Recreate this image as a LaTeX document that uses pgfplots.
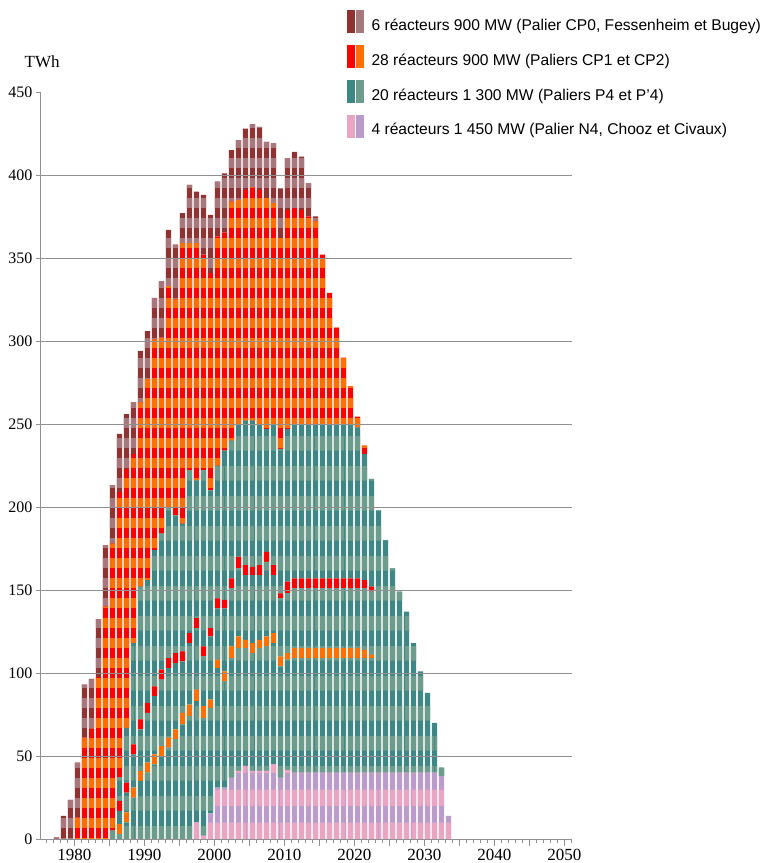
\documentclass[border=0pt]{standalone}
\usepackage{fontspec}
\setmainfont{Liberation Sans}
\newfontfamily\serif{Liberation Serif}
\usepackage{pgfplots}
\usepackage{pgfplotstable}
\pgfplotsset{compat=1.18}
\usetikzlibrary{patterns.meta}

\definecolor{cpzA}{HTML}{8E3232}
\definecolor{cpzB}{HTML}{A6787E}
\definecolor{cpA}{HTML}{FF0000}
\definecolor{cpB}{HTML}{FF7000}
\definecolor{pA}{HTML}{3F8784}
\definecolor{pB}{HTML}{6D9C8C}
\definecolor{nA}{HTML}{E9A5C1}
\definecolor{nB}{HTML}{B99CCA}
\definecolor{gridgray}{HTML}{909090}

% production per year (TWh), stacked bottom to top
% n4 = palier N4, p4a/p4b/p4c = paliers P4/P'4, cpa/cpb = two CP1/CP2 units stacked among them,
% cp = rest of CP1/CP2, cp0 = palier CP0
\pgfplotstableread{
year n4 p4a cpa p4b cpb p4c cp cp0
1977 0 0 0 0 0 0 0 1
1978 0 0 0 0 0 0 0 14
1979 0 0 0 0 0 0 0 23.5
1980 0 0 0 0 0 0 13 33
1981 0 0 0 0 0 0 61 32
1982 0 0 0 0 0 0 66.5 30
1983 0 0 0 0 0 0 97.5 35
1984 0 0 0 0 0 0 140 37
1985 0 5 0 0 0 0 173 35
1986 0 3 6 8 6 14 172 35
1987 0 10 6 12 6 33 156 33
1988 0 25 6 20 6 61 114 31
1989 0 35 6 25 6 80 111 31
1990 0 40 6 30 6 74 121 29
1991 0 45 6 35 6 82 127 25
1992 0 50 6 40 6 82 118 34
1993 0 55 6 42 6 91 133 34
1994 0 60 6 40 6 83 130 33
1995 0 69 7 31 6 77 169 18
1996 0 74 7 37 6 98 137 35
1997 10 73 7 37 6 83 143 31
1998 2 71 7 30 6 106 130 36
1999 15.5 63.5 5 38 5 83 131 35
2000 31 72 5 31 6 80 138 33
2001 31 64 6 38 5 90 131.5 35.5
2002 37 72 7 35 6 83 144 31
2003 41 74 7 41 7 80 135 36
2004 44 71 5 39 6 87 139 37
2005 41 71 6 41 5 88 140.6 38
2006 41 74 5 39 6 85 141 38
2007 41 75 6 45 6 74 139 34
2008 45 73 6 35 6 85 133 36
2009 37 67 6 35 3 87 127 30
2010 41.5 66.5 4 36 7 92 132 31
2011 40 69 6 36 6 93 130 34
2012 40 69 6 36 6 93 129 32
2013 40 69 6 36 6 93 125 20
2014 40 69 6 36 6 93 122 3
2015 40 69 6 36 6 93 102 0
2016 40 69 6 36 6 93 79 0
2017 40 69 6 36 6 93 58 0
2018 40 69 6 36 6 93 40 0
2019 40 69 6 36 6 93 22.6 0
2020 40 69 6 36 6 91 6.5 0
2021 40 69 5 37 5 76 5 0
2022 40 69 2 38 3 65 0 0
2023 40 158 0 0 0 0 0 0
2024 40 140 0 0 0 0 0 0
2025 40 123 0 0 0 0 0 0
2026 40 109 0 0 0 0 0 0
2027 40 97 0 0 0 0 0 0
2028 40 78 0 0 0 0 0 0
2029 40 61 0 0 0 0 0 0
2030 40 48 0 0 0 0 0 0
2031 40 30 0 0 0 0 0 0
2032 38 5 0 0 0 0 0 0
2033 14 0 0 0 0 0 0 0
}\prod

\pgfplotsset{
  stripes/.style n args={4}{fill=#1, draw=none,
    postaction={pattern color=#2, pattern={Lines[angle=0,distance=#3,line width=#4]}}},
}

\begin{document}
\begin{tikzpicture}
\begin{axis}[
  scale only axis, width=532pt, height=747pt,
  xmin=1975.1, xmax=2051.1, ymin=0, ymax=450,
  ybar stacked, bar width=5.4pt, bar shift=3.2pt,
  clip=false, axis on top,
  axis x line*=bottom, axis y line*=left,
  axis line style={draw=gridgray, line width=0.9pt, -},
  tick align=outside,
  xtick={1980,1990,...,2050},
  minor xtick={1975,...,2051},
  extra x ticks={1975,1985,...,2045},
  extra x tick labels={},
  ytick={0,50,...,450},
  extra y ticks={50,100,...,400},
  extra y tick labels={},
  extra y tick style={ymajorgrids=true, major tick length=0pt},
  major grid style={draw=gridgray, line width=0.9pt},
  major tick length=7pt, minor tick length=3.5pt,
  ytick style={/pgfplots/major tick length=4pt},
  tick style={draw=gridgray, line width=0.8pt},
  /pgf/number format/assume math mode=true,
  xticklabel style={font=\serif\fontsize{17}{17}\selectfont, /pgf/number format/1000 sep={}},
  yticklabel style={font=\serif\fontsize{16}{16}\selectfont, xshift=3pt},
  legend style={at={(0.577,1.110)}, anchor=north west, draw=none, fill=none,
    font=\fontsize{15.6}{18}\selectfont, row sep=12.5pt, inner sep=0pt,
    nodes={inner sep=0pt},
    /tikz/every odd column/.append style={column sep=8pt}},
  legend cell align=left,
]
\addplot[forget plot, stripes={nB}{nA}{33pt}{16.5pt}] table[x=year,y=n4] {\prod};
\addplot[forget plot, stripes={pA}{pB}{30pt}{15pt}] table[x=year,y=p4a] {\prod};
\addplot[forget plot, fill=cpB, draw=none] table[x=year,y=cpa] {\prod};
\addplot[forget plot, stripes={pA}{pB}{30pt}{15pt}] table[x=year,y=p4b] {\prod};
\addplot[forget plot, fill=cpA, draw=none] table[x=year,y=cpb] {\prod};
\addplot[forget plot, stripes={pA}{pB}{30pt}{15pt}] table[x=year,y=p4c] {\prod};
\addplot[forget plot, stripes={cpA}{cpB}{20pt}{10pt}] table[x=year,y=cp] {\prod};
\addplot[forget plot, stripes={cpzA}{cpzB}{20pt}{10pt}] table[x=year,y=cp0] {\prod};

\addlegendimage{legend image code/.code={\fill[cpzA] (0pt,-7pt) rectangle (7pt,15pt); \fill[cpzB] (8.5pt,-7pt) rectangle (16pt,15pt);}}
\addlegendentry{6 réacteurs 900 MW (Palier CP0, Fessenheim et Bugey)}
\addlegendimage{legend image code/.code={\fill[cpA] (0pt,-7pt) rectangle (7pt,15pt); \fill[cpB] (8.5pt,-7pt) rectangle (16pt,15pt);}}
\addlegendentry{28 réacteurs 900 MW (Paliers CP1 et CP2)}
\addlegendimage{legend image code/.code={\fill[pA] (0pt,-7pt) rectangle (7pt,15pt); \fill[pB] (8.5pt,-7pt) rectangle (16pt,15pt);}}
\addlegendentry{20 réacteurs 1 300 MW (Paliers P4 et P’4)}
\addlegendimage{legend image code/.code={\fill[nA] (0pt,-7pt) rectangle (7pt,15pt); \fill[nB] (8.5pt,-7pt) rectangle (16pt,15pt);}}
\addlegendentry{4 réacteurs 1 450 MW (Palier N4, Chooz et Civaux)}

\node[font=\serif\fontsize{17}{17}\selectfont] at (rel axis cs:0.004,1.040) {TWh};
\coordinate (o) at (rel axis cs:0,0);
\end{axis}
\pgfresetboundingbox
\path[use as bounding box] (o) ++(-40pt,-24pt) rectangle ++(770pt,863pt);
\end{tikzpicture}
\end{document}
